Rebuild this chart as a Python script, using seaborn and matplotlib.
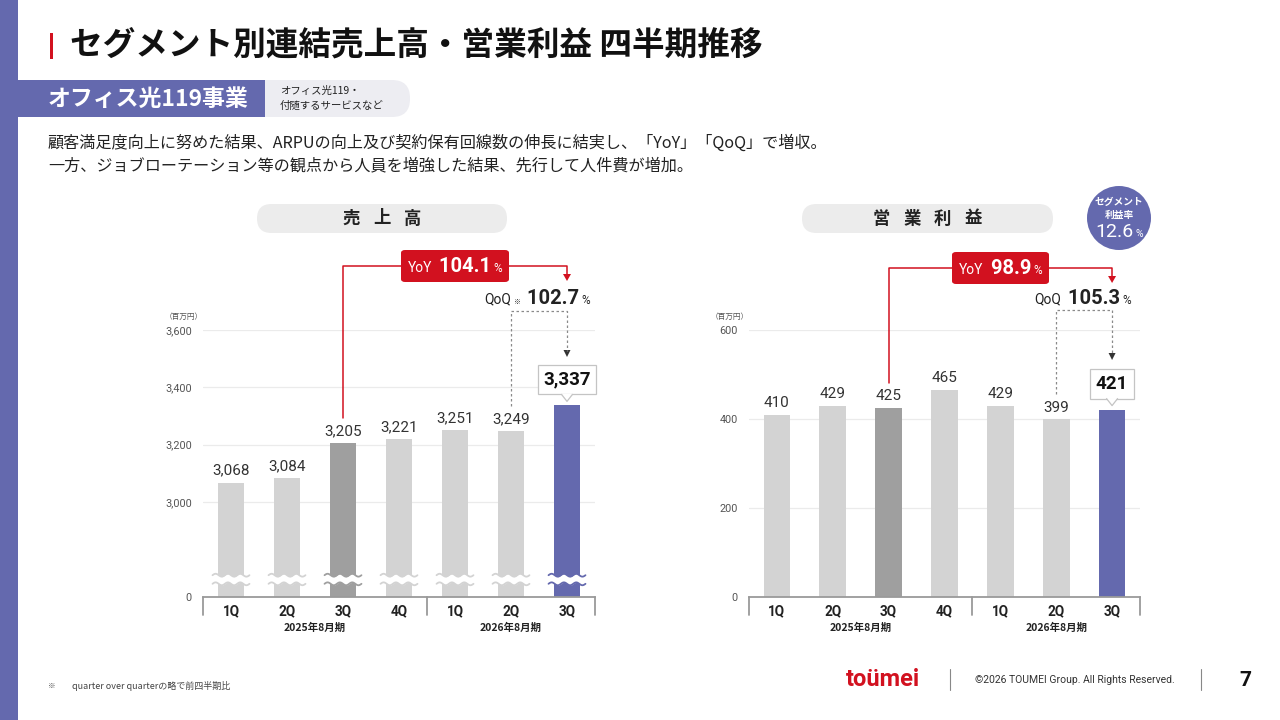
import numpy as np
import pandas as pd
import matplotlib
matplotlib.use("Agg")
import matplotlib.pyplot as plt
import matplotlib.transforms as mtransforms
from matplotlib.patches import FancyBboxPatch, Rectangle, Circle, Polygon
from matplotlib.offsetbox import TextArea, HPacker, AnnotationBbox
import seaborn as sns

# ---------------- data ----------------
quarters = ["1Q", "2Q", "3Q", "4Q", "1Q", "2Q", "3Q"]
periods = ["2025年8月期", "2026年8月期"]
period_sizes = [4, 3]
sales = [3068, 3084, 3205, 3221, 3251, 3249, 3337]
profit = [410, 429, 425, 465, 429, 399, 421]
sales_ticks = [3000, 3200, 3400, 3600]
profit_ticks = [0, 200, 400, 600]
sales_axis_base = 2669          # broken axis: the "0" line of the sales chart
sales_yoy, sales_qoq = "104.1", "102.7"
profit_yoy, profit_qoq = "98.9", "105.3"
segment_margin = "12.6"

# ---------------- style ----------------
sns.set_theme(style="white")
JP = ["Noto Sans CJK JP", "DejaVu Sans"]
NUM = ["Roboto", "Noto Sans CJK JP", "DejaVu Sans"]
plt.rcParams["font.family"] = JP

BLUE = "#6469ae"
RED = "#d2111f"
LIGHT = "#d3d3d3"
DARK = "#9f9f9f"
TXT = "#222222"
colors = [LIGHT, LIGHT, DARK, LIGHT, LIGHT, LIGHT, BLUE]

W, H = 1280, 720
fig = plt.figure(figsize=(12.8, 7.2), dpi=100)
fig.patch.set_facecolor("white")

bg = fig.add_axes([0, 0, 1, 1], zorder=0)
bg.set_xlim(0, W); bg.set_ylim(H, 0); bg.axis("off")
ov = fig.add_axes([0, 0, 1, 1], zorder=5)
ov.set_xlim(0, W); ov.set_ylim(H, 0); ov.axis("off"); ov.patch.set_alpha(0)

# ---------------- slide frame ----------------
bg.add_patch(Rectangle((0, 0), 18, H, color=BLUE, lw=0))
bg.add_patch(Rectangle((50, 33), 3, 26, color=RED, lw=0))
bg.text(70, 46, "セグメント別連結売上高・営業利益 四半期推移", fontsize=23.5,
        fontweight="bold", color="#111111", va="center", ha="left", family=JP)

bg.add_patch(FancyBboxPatch((230, 80), 180, 37,
                            boxstyle="round,pad=0,rounding_size=18", fc="#ededf2", ec="none"))
bg.add_patch(Rectangle((17, 80), 248, 37, color=BLUE, lw=0))
bg.text(48, 99, "オフィス光119事業", fontsize=16.5, fontweight="bold", color="white",
        va="center", ha="left", family=JP)
bg.text(280, 91, "オフィス光119・", fontsize=7.5, color=TXT, va="center", ha="left", family=JP)
bg.text(280, 106, "付随するサービスなど", fontsize=7.5, color=TXT, va="center", ha="left", family=JP)

bg.text(48, 143, "顧客満足度向上に努めた結果、ARPUの向上及び契約保有回線数の伸長に結実し、「YoY」「QoQ」で増収。",
        fontsize=11.6, color=TXT, va="center", ha="left", family=JP)
bg.text(48, 166, "一方、ジョブローテーション等の観点から人員を増強した結果、先行して人件費が増加。",
        fontsize=11.6, color=TXT, va="center", ha="left", family=JP)

# pills
for (x0, x1, chars) in [(257, 507, "売上高"), (802, 1053, "営業利益")]:
    bg.add_patch(FancyBboxPatch((x0, 204), x1 - x0, 29,
                                boxstyle="round,pad=0,rounding_size=14.5", fc="#ececec", ec="none"))
    c = (x0 + x1) / 2
    step = 30.5
    n = len(chars)
    for k, ch in enumerate(chars):
        bg.text(c + (k - (n - 1) / 2) * step, 218.5, ch, fontsize=12.5, fontweight="bold",
                color=TXT, ha="center", va="center", family=JP)

# segment margin circle
bg.add_patch(Circle((1119, 218), 32, color=BLUE, lw=0))
bg.text(1119, 202, "セグメント", fontsize=7, fontweight="bold", color="white", ha="center", va="center", family=JP)
bg.text(1119, 215, "利益率", fontsize=7, fontweight="bold", color="white", ha="center", va="center", family=JP)
pk = HPacker(children=[TextArea(segment_margin, textprops=dict(fontsize=14, color="white", family=NUM)),
                       TextArea("%", textprops=dict(fontsize=7.5, color="white", family=NUM))],
             align="baseline", pad=0, sep=1)
bg.add_artist(AnnotationBbox(pk, (1119, 232), xycoords=bg.transData, frameon=False,
                             box_alignment=(0.5, 0.5), pad=0))

# footer
bg.text(48, 686, "※", fontsize=5.5, color="#444444", ha="left", va="center", family=JP)
bg.text(72, 686, "quarter over quarterの略で前四半期比", fontsize=6.5, color="#444444",
        ha="left", va="center", family=JP)
bg.text(883, 679, "toümei", fontsize=17, fontweight="bold", color=RED, ha="center", va="center", family=NUM)
bg.plot([950, 950], [669, 690], color="#888888", lw=0.8)
bg.text(975, 680, "©2026 TOUMEI Group. All Rights Reserved.", fontsize=7.5, color="#333333",
        ha="left", va="center", family=NUM)
bg.plot([1201, 1201], [669, 690], color="#888888", lw=0.8)
bg.text(1245, 680, "7", fontsize=15, fontweight="bold", color="#111111", ha="center", va="center", family=NUM)

# ---------------- charts ----------------
ax_bottom_px, ax_top_px = 597, 330
def axes_rect(x0, x1):
    return [x0 / W, (H - ax_bottom_px) / H, (x1 - x0) / W, (ax_bottom_px - ax_top_px) / H]

keys = [f"{p}-{q}-{i}" for i, (p, q) in enumerate(zip(
    [periods[0]] * period_sizes[0] + [periods[1]] * period_sizes[1], quarters))]

callouts = []


def draw_chart(rect, values, ylim, ticks, ticklabels):
    ax = fig.add_axes(rect, zorder=2)
    ax.patch.set_alpha(0)
    df = pd.DataFrame({"key": keys, "value": values})
    sns.barplot(data=df, x="key", y="value", hue="key", palette=colors, legend=False,
                width=0.48, saturation=1, ax=ax, linewidth=0)
    ax.set_xlim(-0.5, len(values) - 0.5)
    ax.set_ylim(*ylim)
    ax.set_yticks(ticks)
    ax.set_yticklabels(ticklabels, fontsize=7.8, color="#555555", family=NUM)
    ax.set_xticks(range(len(values)))
    ax.set_xticklabels(quarters, fontsize=9.8, fontweight="bold", color=TXT, family=NUM)
    ax.tick_params(axis="y", length=0, pad=8)
    ax.tick_params(axis="x", length=0, pad=5)
    ax.set_xlabel(""); ax.set_ylabel("")
    ax.yaxis.grid(True, color="#ebebeb", lw=0.9)
    ax.set_axisbelow(True)
    for s in ["left", "right", "top"]:
        ax.spines[s].set_visible(False)
    ax.spines["bottom"].set_color("#9a9a9a")
    ax.spines["bottom"].set_linewidth(1.3)
    tr = mtransforms.blended_transform_factory(ax.transData, ax.transAxes)
    edges = [-0.5]
    for s in period_sizes:
        edges.append(edges[-1] + s)
    for e in edges:
        ax.plot([e, e], [0, -0.068], color="#9a9a9a", lw=1.3, transform=tr, clip_on=False)
    start = -0.5
    for p, s in zip(periods, period_sizes):
        ax.text(start + s / 2, -0.116, p, transform=tr, fontsize=7.5, fontweight="bold",
                color=TXT, ha="center", va="center", family=JP)
        start += s
    # value labels (last one in a callout box)
    for i, v in enumerate(values[:-1]):
        ax.annotate(f"{v:,}", (i, v), xytext=(0, 3.5), textcoords="offset points",
                    ha="center", va="bottom", fontsize=11, color="#333333", family=NUM)
    i = len(values) - 1
    v = values[-1]
    ann = ax.annotate(f"{v:,}", (i, v), xytext=(0, 12), textcoords="offset points",
                      ha="center", va="bottom", fontsize=13.5, fontweight="bold", color="#111111",
                      family=NUM,
                      bbox=dict(boxstyle="square,pad=0.3", fc="white", ec="#c4c4c4", lw=0.9))
    callouts.append((ax, ann, i, v))
    # unit label
    x0px = rect[0] * W
    bg.text(x0px - 38, 317, "（百万円）", fontsize=5.5, color="#555555", ha="left", va="center", family=JP)
    return ax


def to_px(ax, x, y):
    d = ax.transData.transform((x, y))
    return d[0], H - d[1]


def wave_marks(ax, values, y_lo, y_hi, amp):
    for i in range(len(values)):
        xs = np.linspace(i - 0.33, i + 0.33, 80)
        ph = np.sin(2 * np.pi * (xs - i + 0.33) / 0.22)
        y1 = y_lo + amp * ph
        y2 = y_hi + amp * ph
        ax.fill_between(xs, y1, y2, color="white", lw=0, zorder=4)
        ax.plot(xs, y1, color=colors[i], lw=1.3, zorder=5)
        ax.plot(xs, y2, color=colors[i], lw=1.3, zorder=5)


def badge(x, y, label, val, pct, fc=None, tc="white", small=None, align=(0.5, 0.5)):
    kids = [TextArea(label, textprops=dict(fontsize=10, color=tc, family=NUM))]
    if small:
        kids.append(TextArea(small, textprops=dict(fontsize=5, color=tc, family=JP)))
    kids.append(TextArea(" " + val, textprops=dict(fontsize=14.5, fontweight="bold", color=tc, family=NUM)))
    kids.append(TextArea(pct, textprops=dict(fontsize=8.5, color=tc, family=NUM)))
    pk = HPacker(children=kids, align="baseline", pad=0, sep=1.5)
    ab = AnnotationBbox(pk, (x, y), xycoords=ov.transData, box_alignment=align,
                        frameon=fc is not None, pad=0.45,
                        bboxprops=dict(boxstyle="round,pad=0.45,rounding_size=0.25",
                                       fc=fc if fc else "none", ec="none"))
    ov.add_artist(ab)


def connectors(ax, values, lvl_yoy, tip_yoy, lvl_qoq, tip_qoq, yoy, qoq, qoq_right, qoq_small):
    n = len(values)
    xs3, ys3 = to_px(ax, 2, values[2])
    xl, yl = to_px(ax, n - 1, values[-1])
    xq, yq = to_px(ax, n - 2, values[-2])
    # YoY red
    ov.plot([xs3, xs3, xl, xl], [ys3 - 25, lvl_yoy, lvl_yoy, tip_yoy - 6], color=RED, lw=1.1)
    ov.add_patch(Polygon([[xl - 4, tip_yoy - 7], [xl + 4, tip_yoy - 7], [xl, tip_yoy]], color=RED, lw=0))
    bx, _ = to_px(ax, 4, 0)
    badge(bx, lvl_yoy, "YoY", yoy, "%", fc=RED)
    # QoQ dashed
    ov.plot([xq, xq, xl, xl], [yq - 25, lvl_qoq, lvl_qoq, tip_qoq - 6], color="#8a8a8a", lw=0.9,
            ls=(0, (2, 2)))
    ov.add_patch(Polygon([[xl - 3.5, tip_qoq - 7], [xl + 3.5, tip_qoq - 7], [xl, tip_qoq]],
                         color="#333333", lw=0))
    badge(qoq_right, 298, "QoQ", qoq, "%", fc=None, tc="#222222", small=qoq_small, align=(1, 0.5))


# sales chart (broken axis)
ax1 = draw_chart(axes_rect(203, 595), sales, (sales_axis_base, sales_ticks[-1]),
                 [sales_axis_base] + sales_ticks, ["0"] + [f"{t:,}" for t in sales_ticks])
wave_marks(ax1, sales, 2715, 2745, 5)
connectors(ax1, sales, 266, 281, 311, 357, sales_yoy, sales_qoq, 590, "※")

# profit chart
ax2 = draw_chart(axes_rect(749, 1140), profit, (0, profit_ticks[-1]),
                 profit_ticks, [f"{t:,}" for t in profit_ticks])
connectors(ax2, profit, 268, 283, 310, 360, profit_yoy, profit_qoq, 1131, None)

# speech-bubble pointers under the latest-quarter callouts
fig.canvas.draw()
for ax, ann, i, v in callouts:
    ext = ann.get_bbox_patch().get_window_extent(fig.canvas.get_renderer())
    xc, _ = to_px(ax, i, v)
    yb = H - ext.y0
    tip = yb + 7
    ov.add_patch(Polygon([[xc - 5.5, yb - 0.6], [xc + 5.5, yb - 0.6], [xc, tip]],
                         closed=True, fc="white", ec="none", zorder=6))
    ov.plot([xc - 5.5, xc, xc + 5.5], [yb, tip, yb], color="#c4c4c4", lw=0.9, zorder=7)

fig.savefig("out.png", dpi=100, facecolor="white")
